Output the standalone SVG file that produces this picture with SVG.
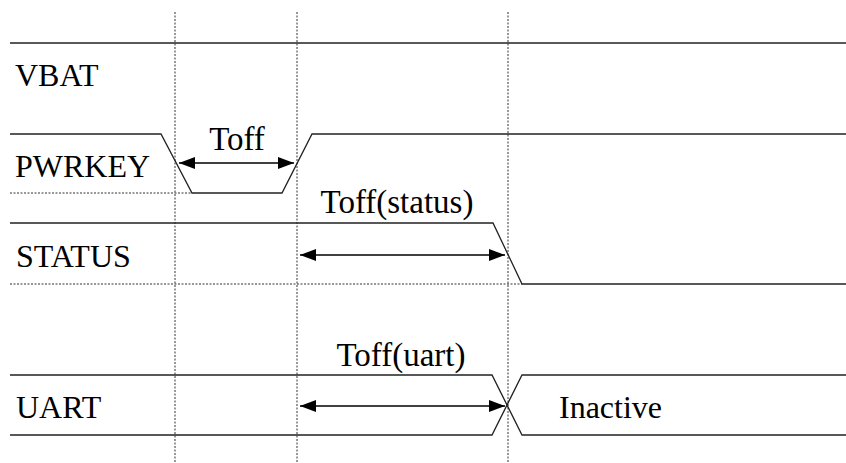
<svg xmlns="http://www.w3.org/2000/svg" width="846" height="463" viewBox="0 0 846 463">
<defs>
<marker id="ah" viewBox="0 0 16 12" refX="16" refY="6" markerWidth="16" markerHeight="12" markerUnits="userSpaceOnUse" orient="auto-start-reverse">
<path d="M0,0 L16,6 L0,12 Z" fill="#000"/>
</marker>
</defs>
<rect width="846" height="463" fill="#fff"/>
<g id="guides" fill="none" stroke="#333" stroke-width="1" stroke-dasharray="2 1.5">
<line x1="175" y1="12" x2="175" y2="463"/>
<line x1="297" y1="12" x2="297" y2="463"/>
<line x1="508" y1="12" x2="508" y2="463"/>
<line x1="10" y1="193" x2="192" y2="193"/>
<line x1="10" y1="284" x2="522" y2="284"/>
</g>
<g id="vbat">
<line x1="10" y1="43" x2="846" y2="43" fill="none" stroke="#222" stroke-width="1.3"/>
<text x="15" y="86" font-family="Times New Roman" font-size="32">VBAT</text>
</g>
<g id="pwrkey">
<polyline points="10,134 161,134 192,193 282,193 312,134 846,134" fill="none" stroke="#222" stroke-width="1.3"/>
<text x="15" y="177" font-family="Times New Roman" font-size="32">PWRKEY</text>
</g>
<g id="status">
<polyline points="10,223 493,223 522,284 846,284" fill="none" stroke="#222" stroke-width="1.3"/>
<text x="16" y="267" font-family="Times New Roman" font-size="32">STATUS</text>
</g>
<g id="uart">
<polyline points="10,375 492,375 522,435 846,435" fill="none" stroke="#222" stroke-width="1.3"/>
<polyline points="10,435 492,435 522,375 846,375" fill="none" stroke="#222" stroke-width="1.3"/>
<text x="16" y="418" font-family="Times New Roman" font-size="32">UART</text>
<text x="559" y="418" font-family="Times New Roman" font-size="32">Inactive</text>
</g>
<g id="connectors">
<g fill="none" stroke="#000" stroke-width="1.3" marker-start="url(#ah)" marker-end="url(#ah)">
<line x1="179" y1="163" x2="294" y2="163"/>
<line x1="300" y1="255" x2="505" y2="255"/>
<line x1="300" y1="406" x2="505" y2="406"/>
</g>
<text x="237" y="150" font-family="Times New Roman" font-size="33" text-anchor="middle">Toff</text>
<text x="397" y="213" font-family="Times New Roman" font-size="33" text-anchor="middle">Toff(status)</text>
<text x="401" y="366" font-family="Times New Roman" font-size="33" text-anchor="middle">Toff(uart)</text>
</g>
</svg>
